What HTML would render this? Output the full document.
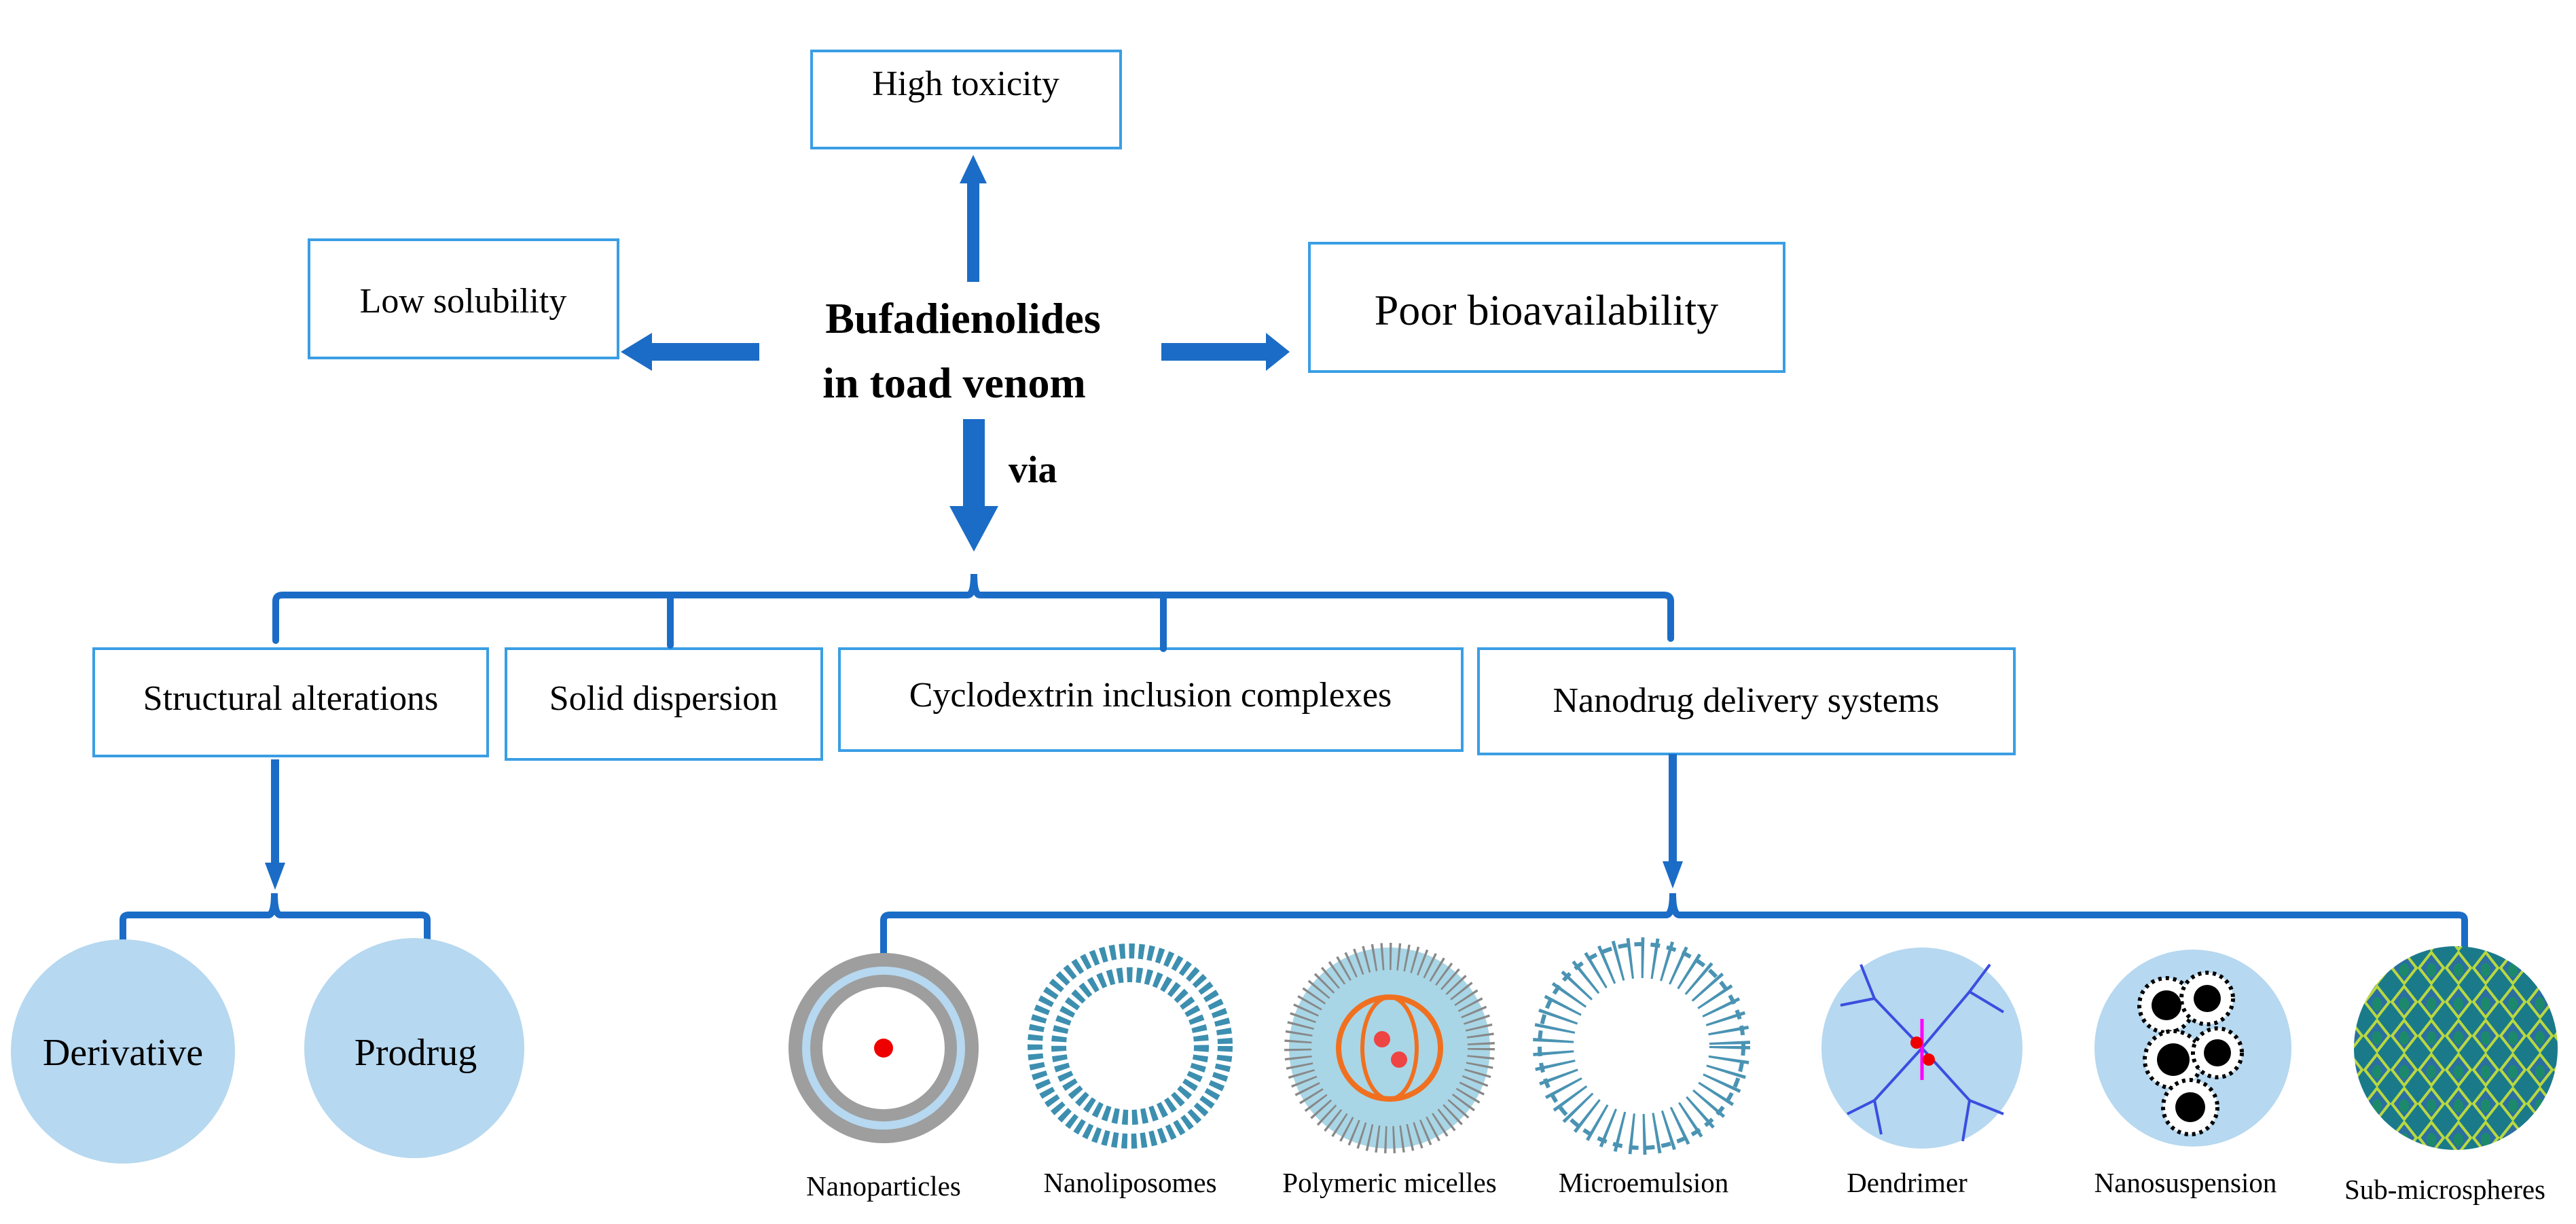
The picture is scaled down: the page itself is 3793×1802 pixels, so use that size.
<!DOCTYPE html>
<html><head><meta charset="utf-8"><style>
html,body{margin:0;padding:0;background:#fff}
svg{display:block}
text{font-family:"Liberation Serif",serif;fill:#000}
</style></head><body>
<svg width="3793" height="1802" viewBox="0 0 3793 1802" xmlns="http://www.w3.org/2000/svg">
<defs>
<pattern id="scale" width="40" height="50" patternUnits="userSpaceOnUse">
<rect width="40" height="50" fill="#1a7a8a"/>
<path d="M20,2 L38,25 L20,48 L2,25z" fill="#2a6fa0" stroke="#b8d840" stroke-width="4"/>
<ellipse cx="20" cy="28" rx="7" ry="10" fill="#1c8a6a"/>
</pattern>
<clipPath id="cc"><circle cx="3616" cy="1543" r="150"/></clipPath>
</defs>
<g fill="none" stroke="#3a9ee4" stroke-width="4">
<rect x="1195" y="75" width="455" height="143"/>
<rect x="455" y="353" width="455" height="174"/>
<rect x="1928" y="358" width="699" height="189"/>
<rect x="138" y="955" width="580" height="158"/>
<rect x="745" y="955" width="465" height="163"/>
<rect x="1236" y="955" width="917" height="150"/>
<rect x="2177" y="955" width="789" height="155"/>
</g>
<text x="1422" y="140" font-size="52" text-anchor="middle">High toxicity</text>
<text x="682" y="460" font-size="52" text-anchor="middle">Low solubility</text>
<text x="2277" y="478" font-size="64" text-anchor="middle">Poor bioavailability</text>
<text x="1418" y="490" font-size="64" font-weight="bold" text-anchor="middle">Bufadienolides</text>
<text x="1405" y="585" font-size="64" font-weight="bold" text-anchor="middle">in toad venom</text>
<text x="1485" y="710" font-size="56" font-weight="bold">via</text>
<text x="428" y="1045" font-size="52" text-anchor="middle">Structural alterations</text>
<text x="977" y="1045" font-size="52" text-anchor="middle">Solid dispersion</text>
<text x="1694" y="1040" font-size="52" text-anchor="middle">Cyclodextrin inclusion complexes</text>
<text x="2571" y="1048" font-size="52" text-anchor="middle">Nanodrug delivery systems</text>
<g fill="#1b6cc6">
<rect x="1424" y="265" width="18" height="150"/><path d="M1413,270 L1433,228 L1453,270z"/>
<rect x="950" y="505" width="168" height="26"/><path d="M960,490 L914,518 L960,546z"/>
<rect x="1710" y="505" width="160" height="26"/><path d="M1864,490 L1899,518 L1864,546z"/>
<rect x="1418" y="617" width="32" height="130"/><path d="M1398,745 L1470,745 L1434,812z"/>
<rect x="399" y="1118" width="12" height="160"/><path d="M390,1270 L420,1270 L405,1310z"/>
<rect x="2457" y="1110" width="12" height="165"/><path d="M2448,1268 L2478,1268 L2463,1308z"/>
</g>
<g fill="none" stroke="#1b6cc6" stroke-linecap="round">
<path d="M406,943 L406,885 Q406,876 416,876 L1425,876 Q1434,876 1434,845 Q1434,876 1443,876 L2450,876 Q2460,876 2460,885 L2460,940" stroke-width="10"/>
<path d="M987,876 L987,950" stroke-width="10"/>
<path d="M1713,876 L1713,955" stroke-width="10"/>
<path d="M181,1403 L181,1354 Q181,1347 190,1347 L395,1347 Q404,1347 404,1315 Q404,1347 413,1347 L620,1347 Q629,1347 629,1354 L629,1405" stroke-width="10"/>
<path d="M1301,1408 L1301,1355 Q1301,1347 1310,1347 L2453,1347 Q2463,1347 2463,1315 Q2463,1347 2473,1347 L3620,1347 Q3629,1347 3629,1355 L3629,1410" stroke-width="10"/>
</g>
<g fill="#b6d8f0">
<circle cx="181" cy="1548" r="165"/>
<circle cx="610" cy="1543" r="162"/>
</g>
<text x="181" y="1568" font-size="56" text-anchor="middle">Derivative</text>
<text x="612" y="1568" font-size="56" text-anchor="middle">Prodrug</text>
<circle cx="1301" cy="1543" r="140" fill="#9e9e9e"/>
<circle cx="1301" cy="1543" r="120" fill="#b6d8f0"/>
<circle cx="1301" cy="1543" r="108" fill="#9e9e9e"/>
<circle cx="1301" cy="1543" r="90" fill="#fff"/>
<circle cx="1301" cy="1543" r="14" fill="#e00"/>
<circle cx="1664" cy="1540" r="140" fill="none" stroke="#3d8fb0" stroke-width="22" stroke-dasharray="8 6"/>
<circle cx="1664" cy="1540" r="105" fill="none" stroke="#3d8fb0" stroke-width="22" stroke-dasharray="8 6"/>
<circle cx="2046" cy="1543" r="148" fill="#a8d6e6"/>
<circle cx="2046" cy="1543" r="135" fill="none" stroke="#888" stroke-width="40" stroke-dasharray="3 9"/>
<circle cx="2046" cy="1543" r="75" fill="none" stroke="#f07020" stroke-width="8"/>
<ellipse cx="2046" cy="1543" rx="40" ry="75" fill="none" stroke="#f07020" stroke-width="6"/>
<circle cx="2035" cy="1530" r="12" fill="#e44"/><circle cx="2060" cy="1560" r="12" fill="#e44"/>
<circle cx="2417" cy="1540" r="130" fill="none" stroke="#4a93b3" stroke-width="60" stroke-dasharray="4 14"/>
<circle cx="2417" cy="1540" r="150" fill="none" stroke="#4a93b3" stroke-width="6" stroke-dasharray="14 10"/>
<circle cx="2830" cy="1543" r="148" fill="#b6d8f0"/>
<g stroke="#3a4ee0" stroke-width="4" fill="none">
<path d="M2830,1543 L2760,1470 L2740,1420 M2760,1470 L2710,1480 M2830,1543 L2900,1460 L2930,1420 M2900,1460 L2950,1490 M2830,1543 L2760,1620 L2720,1640 M2760,1620 L2770,1670 M2830,1543 L2900,1620 L2950,1640 M2900,1620 L2890,1680"/>
</g>
<path d="M2830,1500 L2830,1590" stroke="#f0f" stroke-width="5"/>
<circle cx="2822" cy="1535" r="9" fill="#e00"/><circle cx="2840" cy="1560" r="9" fill="#e00"/>
<circle cx="3229" cy="1543" r="145" fill="#b6d8f0"/>
<g fill="#000" stroke="#000" stroke-width="6" stroke-dasharray="5 6">
<circle cx="3190" cy="1480" r="40" fill="#fff"/><circle cx="3250" cy="1470" r="38" fill="#fff"/>
<circle cx="3200" cy="1560" r="42" fill="#fff"/><circle cx="3265" cy="1550" r="36" fill="#fff"/>
<circle cx="3225" cy="1630" r="40" fill="#fff"/>
</g>
<g fill="#000"><circle cx="3190" cy="1480" r="22"/><circle cx="3250" cy="1470" r="20"/><circle cx="3200" cy="1560" r="24"/><circle cx="3265" cy="1550" r="20"/><circle cx="3225" cy="1630" r="22"/></g>
<rect x="3460" y="1390" width="320" height="310" fill="url(#scale)" clip-path="url(#cc)"/>
<g font-size="41" text-anchor="middle">
<text x="1301" y="1760">Nanoparticles</text>
<text x="1664" y="1755">Nanoliposomes</text>
<text x="2046" y="1755">Polymeric micelles</text>
<text x="2420" y="1755">Microemulsion</text>
<text x="2808" y="1755">Dendrimer</text>
<text x="3218" y="1755">Nanosuspension</text>
<text x="3600" y="1765">Sub-microspheres</text>
</g>
</svg>
</body></html>
